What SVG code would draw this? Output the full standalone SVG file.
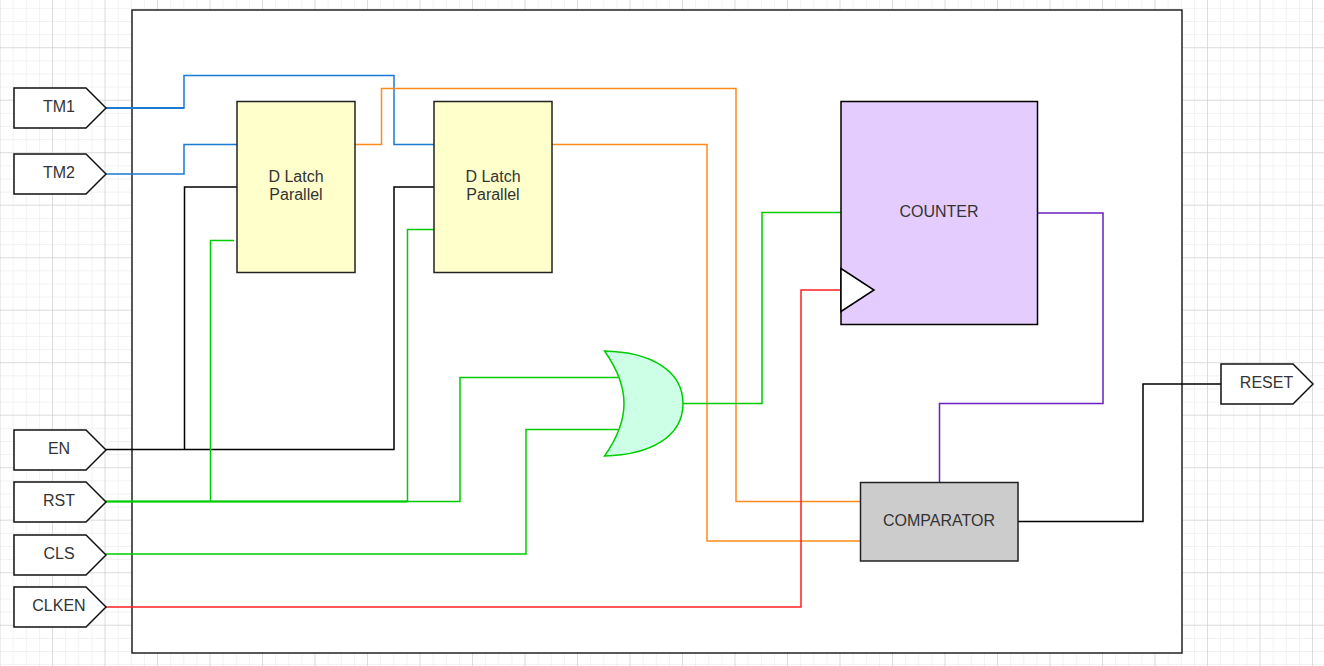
<svg xmlns="http://www.w3.org/2000/svg" width="1324" height="666" viewBox="0 0 1324 666">
<style>
.b{stroke:#222;stroke-width:1.5;stroke-linejoin:miter}
.w{fill:none;stroke-width:1.5}
text{font-family:"Liberation Sans",Arial,sans-serif;font-size:16px;fill:#333;text-anchor:middle}
.port{fill:#fff;stroke:#111;stroke-width:1.5}
.blue{stroke:#1a7ad4}
.orange{stroke:#ff8c1a}
.green{stroke:#00cc00}
.black{stroke:#000}
</style>
<defs>
<pattern id="minor" width="13.125" height="13.125" patternUnits="userSpaceOnUse" x="0.5" y="-4.3"><path d="M13.125 0V13.125M0 13.125H13.125" fill="none" stroke="#e6e6e6" stroke-width="1"/></pattern>
<pattern id="major" width="52.5" height="52.5" patternUnits="userSpaceOnUse" x="0.5" y="-4.3"><path d="M52.5 0V52.5M0 52.5H52.5" fill="none" stroke="#c8c8c8" stroke-width="1"/></pattern>
<path id="p" d="M0 0H72L92 20L72 40H0Z" class="port"/>
</defs>
<rect width="1324" height="666" fill="#fff"/>
<rect width="1324" height="666" fill="url(#minor)"/>
<rect width="1324" height="666" fill="url(#major)"/>
<g id="system"><rect x="132" y="10" width="1050" height="643" fill="#fff" class="b"/></g>
<g id="connectors" class="w">
<path d="M105.500 108H184V75.500H394V144.500H434" class="blue"/>
<path d="M105.500 108H184" class="blue" stroke-width="2"/>
<path d="M105.500 174H184V144.500H237" class="blue"/>
<path d="M355 144.500H381.500V88.500H736V501.500H860" class="orange"/>
<path d="M552 144.500H707V541H860" class="orange"/>
<path d="M105.500 449.500H394V187H434" class="black"/>
<path d="M184.500 449.500V187H237" class="black"/>
<path d="M105.500 501.500H460V377.500H618" class="green"/>
<path d="M105.500 501.500H407.500" class="green" stroke-width="2.200"/>
<path d="M210.500 501.500V240.500H234" class="green"/>
<path d="M407.500 501.500V229.500H434" class="green"/>
<path d="M105.500 554H526V429.500H618" class="green"/>
<path d="M683 403.500H762V212.500H841" class="green"/>
<path d="M105.500 607H801V290H841" stroke="#ff2020"/>
<path d="M1037 213H1103V403.500H939.500V482" stroke="#6a1fc0"/>
<path d="M1018 521.500H1143V384H1221" class="black"/>
</g>
<g id="tm1"><use href="#p" x="14" y="88"/><text x="59" y="112">TM1</text></g>
<g id="tm2"><use href="#p" x="14" y="154"/><text x="59" y="178">TM2</text></g>
<g id="en"><use href="#p" x="14" y="430"/><text x="59" y="454">EN</text></g>
<g id="rst"><use href="#p" x="14" y="482"/><text x="59" y="506">RST</text></g>
<g id="cls"><use href="#p" x="14" y="535"/><text x="59" y="559">CLS</text></g>
<g id="clken"><use href="#p" x="14" y="587"/><text x="59" y="611">CLKEN</text></g>
<g id="reset"><use href="#p" x="1221" y="364"/><text x="1266.500" y="388">RESET</text></g>
<g id="latch1"><rect x="237" y="101.500" width="118" height="171" fill="#ffffcc" class="b"/><text x="296" y="182">D Latch</text><text x="296" y="200">Parallel</text></g>
<g id="latch2"><rect x="434" y="101.500" width="118" height="171" fill="#ffffcc" class="b"/><text x="493" y="182">D Latch</text><text x="493" y="200">Parallel</text></g>
<g id="counter"><rect x="841" y="101.500" width="196.500" height="223" fill="#e5ccff" stroke="#000" stroke-width="1.500"/><path d="M841 268.500L874 290L841 311.500Z" fill="#fff" stroke="#000" stroke-width="1.500"/><text x="939" y="217">COUNTER</text></g>
<g id="or"><path d="M604.500 351C650 352 683 370 683 403.500C683 437 650 455 604.500 456C618 437 624 420 624 403.500C624 387 618 370 604.500 351Z" fill="#ccffe6" stroke="#00cc00" stroke-width="1.500"/></g>
<g id="comparator"><rect x="860.500" y="482.500" width="157.500" height="78.500" fill="#cccccc" class="b"/><text x="939" y="526">COMPARATOR</text></g>
</svg>
